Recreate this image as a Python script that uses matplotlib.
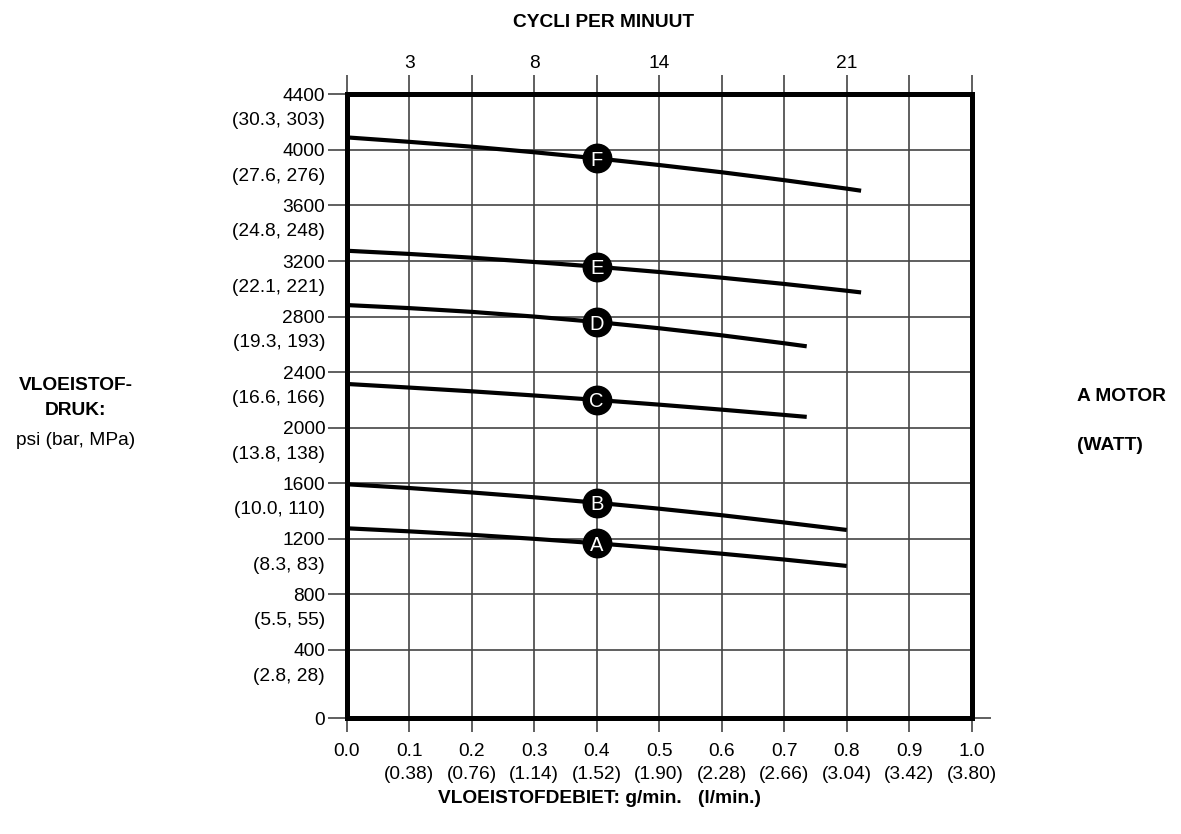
import numpy as np
import matplotlib
matplotlib.use('Agg')
import matplotlib.pyplot as plt

plt.rcParams['font.family'] = ['Liberation Sans', 'DejaVu Sans']

flow_long = [0.0, 0.1, 0.2, 0.3, 0.4, 0.5, 0.6, 0.7, 0.8]
flow_long_end = [0.0, 0.1, 0.2, 0.3, 0.4, 0.5, 0.6, 0.7, 0.8, 0.823]
flow_short = [0.0, 0.1, 0.2, 0.3, 0.4, 0.5, 0.6, 0.7, 0.736]

# druk (psi) per motor-curve
curve_A = [1276, 1254, 1229, 1200, 1168, 1132, 1093, 1051, 1005]
curve_B = [1593, 1566, 1534, 1499, 1460, 1417, 1370, 1318, 1264]
curve_C = [2315, 2289, 2262, 2232, 2200, 2166, 2130, 2092, 2078]
curve_D = [2883, 2861, 2834, 2800, 2761, 2716, 2665, 2608, 2586]
curve_E = [3274, 3251, 3224, 3193, 3159, 3121, 3080, 3035, 2986, 2974]
curve_F = [4090, 4058, 4023, 3983, 3939, 3891, 3839, 3782, 3721, 3706]
curve_names = ['A', 'B', 'C', 'D', 'E', 'F']
marker_flow = 0.4

# as-labels
psi_ticks = [400, 800, 1200, 1600, 2000, 2400, 2800, 3200, 3600, 4000, 4400]
bar_mpa = ['(2.8, 28)', '(5.5, 55)', '(8.3, 83)', '(10.0, 110)', '(13.8, 138)',
           '(16.6, 166)', '(19.3, 193)', '(22.1, 221)', '(24.8, 248)',
           '(27.6, 276)', '(30.3, 303)']
flow_ticks = [0.0, 0.1, 0.2, 0.3, 0.4, 0.5, 0.6, 0.7, 0.8, 0.9, 1.0]
lpm_labels = ['', '(0.38)', '(0.76)', '(1.14)', '(1.52)', '(1.90)', '(2.28)',
              '(2.66)', '(3.04)', '(3.42)', '(3.80)']
cycle_flows = [0.1, 0.3, 0.5, 0.8]
cycle_labels = ['3', '8', '14', '21']

# de grafiek heeft een grotere afstand tussen 0 en 400 psi
zero_pos = -92

fig = plt.figure(figsize=(11.81, 8.34), dpi=100)
ax = fig.add_axes([0.2936, 0.1387, 0.5292, 0.7482])

grid_col = '#444444'
fs = 13.8

curves = [
    (flow_long, curve_A),
    (flow_long, curve_B),
    (flow_short, curve_C),
    (flow_short, curve_D),
    (flow_long_end, curve_E),
    (flow_long_end, curve_F),
]
for (xs, ys), name in zip(curves, curve_names):
    ax.plot(xs, ys, color='black', lw=3.0, solid_capstyle='butt',
            solid_joinstyle='round', zorder=3)
    y_mark = np.interp(marker_flow, xs, ys)
    ax.plot(marker_flow, y_mark, 'o', ms=20.5, color='black', zorder=4)
    ax.text(marker_flow, y_mark, name, color='white', fontsize=14.5,
            ha='center', va='center_baseline', zorder=5)

ax.set_xlim(0, 1.0)
ax.set_ylim(zero_pos, 4400)

# raster
for fx in flow_ticks:
    ax.axvline(fx, color=grid_col, lw=1.2, zorder=1)
for py in psi_ticks:
    ax.axhline(py, color=grid_col, lw=1.2, zorder=1)

# y-as
ax.set_yticks([zero_pos] + psi_ticks)
ax.set_yticklabels(['0'] + [str(p) for p in psi_ticks], fontsize=fs)
ax.tick_params(axis='y', length=14, width=1.2, color=grid_col, pad=1.5)
for py, lab in zip(psi_ticks, bar_mpa):
    ax.annotate(lab, xy=(0, py), xycoords=('axes fraction', 'data'),
                xytext=(-15.5, -19), textcoords='offset points',
                ha='right', va='center', fontsize=fs)

# streepje rechts bij 0
rax = ax.twinx()
rax.set_ylim(ax.get_ylim())
rax.set_yticks([zero_pos])
rax.set_yticklabels([''])
rax.tick_params(axis='y', length=14, width=1.2, color=grid_col)

# x-as onder
ax.set_xticks(flow_ticks)
ax.set_xticklabels(['%.1f' % f if not l else '%.1f\n%s' % (f, l)
                    for f, l in zip(flow_ticks, lpm_labels)],
                   fontsize=fs, linespacing=1.45)
ax.tick_params(axis='x', length=10, width=1.2, color=grid_col, pad=8)

# x-as boven: cycli per minuut
top = ax.twiny()
top.set_xlim(ax.get_xlim())
top.set_xticks(flow_ticks)
top.set_xticklabels([cycle_labels[cycle_flows.index(f)] if f in cycle_flows else ''
                     for f in flow_ticks], fontsize=fs)
top.tick_params(axis='x', length=14, width=1.2, color=grid_col, pad=2)

for a in (ax, top, rax):
    for sp in a.spines.values():
        sp.set_linewidth(3.6)
        sp.set_zorder(6)

fig.text(0.511, 0.973, 'CYCLI PER MINUUT', fontsize=fs, fontweight='bold',
         ha='center', va='center')
fig.text(0.508, 0.043, 'VLOEISTOFDEBIET: g/min.   (l/min.)', fontsize=fs,
         fontweight='bold', ha='center', va='center')
fig.text(0.064, 0.523, 'VLOEISTOF-\nDRUK:', fontsize=fs, fontweight='bold',
         ha='center', va='center', linespacing=1.6)
fig.text(0.064, 0.472, 'psi (bar, MPa)', fontsize=fs, ha='center', va='center')
fig.text(0.912, 0.524, 'A MOTOR', fontsize=fs, fontweight='bold',
         ha='left', va='center')
fig.text(0.912, 0.466, '(WATT)', fontsize=fs, fontweight='bold',
         ha='left', va='center')

fig.savefig('out.png', dpi=100)
